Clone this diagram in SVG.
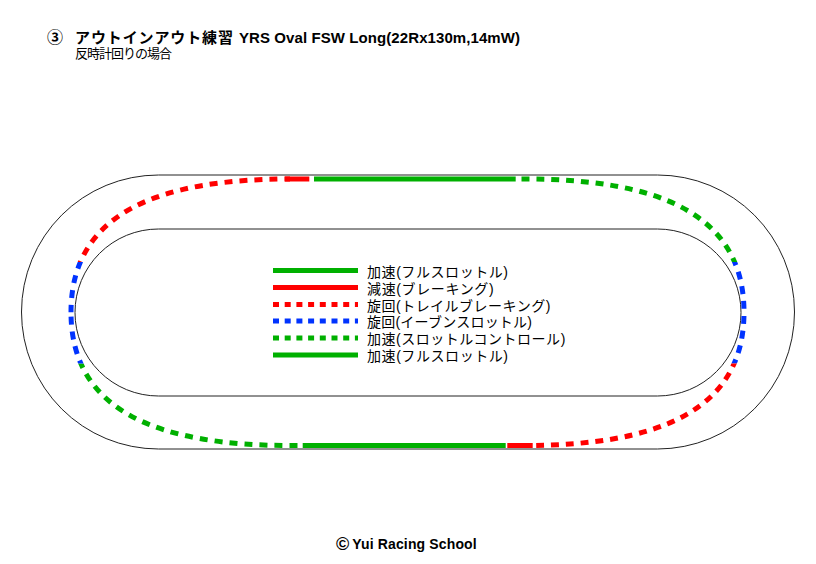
<svg xmlns="http://www.w3.org/2000/svg" width="816" height="564" viewBox="0 0 816 564">
<style>
text{font-family:"Liberation Sans","Noto Sans CJK JP",sans-serif;fill:#000}
.b{font-weight:bold}
.lg{font-size:14px}
.edge{fill:none;stroke:#222;stroke-width:1}
.ln{fill:none;stroke-width:5}
.dash{fill:none;stroke-width:5;stroke-dasharray:8 7}
.dr{stroke-dasharray:7.9 6.94}
.ldash{stroke-dasharray:6 5.7}
.g{stroke:#00b000}
.r{stroke:#ff0000}
.bl{stroke:#0033ff}
</style>
<defs>
<clipPath id="cTop"><rect x="0" y="0" width="816" height="262"/></clipPath>
<clipPath id="cMid"><rect x="0" y="262" width="816" height="101.5"/></clipPath>
<clipPath id="cBot"><rect x="0" y="363.5" width="816" height="200.5"/></clipPath>
<path id="tl" d="M290,179 C160,179 71,212.25 71,312.25"/>
<path id="bl" d="M297.5,445.5 L290,445.5 C160,445.5 71,412.25 71,312.25"/>
<path id="rr" d="M521.5,179 L525,179 C655,179 744,212.25 744,312.25 C744,412.25 655,445.5 525,445.5 L512,445.5"/>
</defs>
<rect width="816" height="564" fill="#fff"/>
<g id="title">
<text class="b" x="47" y="43" font-size="16">③</text>
<text class="b" x="75" y="42.5" font-size="15" textLength="158" lengthAdjust="spacing">アウトインアウト練習</text>
<text class="b" x="239" y="42.5" font-size="15" textLength="281" lengthAdjust="spacing">YRS Oval FSW Long(22Rx130m,14mW)</text>
<text x="75" y="57.5" font-size="13" textLength="97" lengthAdjust="spacing">反時計回りの場合</text>
</g>
<g id="track">
<rect class="edge" x="21.5" y="175" width="773" height="274" rx="137" ry="137"/>
<rect class="edge" x="75" y="229" width="666" height="167" rx="83.5" ry="83.5"/>
</g>
<g id="racing-line">
<line class="ln g" x1="515.7" y1="179" x2="314" y2="179"/>
<line class="ln r" x1="309.3" y1="179" x2="285" y2="179"/>
<use href="#tl" class="dash r" clip-path="url(#cTop)" stroke-dashoffset="2.5"/>
<use href="#tl" class="dash bl" clip-path="url(#cMid)" stroke-dashoffset="2.5"/>
<use href="#bl" class="dash g" clip-path="url(#cBot)"/>
<use href="#bl" class="dash bl" clip-path="url(#cMid)"/>
<line class="ln g" x1="302.7" y1="445.5" x2="505.7" y2="445.5"/>
<use href="#rr" class="dash dr g" clip-path="url(#cTop)"/>
<use href="#rr" class="dash dr bl" clip-path="url(#cMid)"/>
<use href="#rr" class="dash dr r" clip-path="url(#cBot)"/>
<line class="ln r" x1="507.3" y1="445.5" x2="532.7" y2="445.5"/>
</g>
<g id="legend">
<g id="leg1"><line class="ln g" x1="273" y1="270.5" x2="358" y2="270.5"/><text class="lg" x="367" y="276.5" textLength="141" lengthAdjust="spacing">加速(フルスロットル)</text></g>
<g id="leg2"><line class="ln r" x1="273" y1="287.5" x2="358" y2="287.5"/><text class="lg" x="367" y="293.5" textLength="126.6" lengthAdjust="spacing">減速(ブレーキング)</text></g>
<g id="leg3"><line class="ln r ldash" x1="273" y1="304.5" x2="358" y2="304.5"/><text class="lg" x="367" y="310.5" textLength="183.3" lengthAdjust="spacing">旋回(トレイルブレーキング)</text></g>
<g id="leg4"><line class="ln bl ldash" x1="273" y1="321" x2="358" y2="321"/><text class="lg" x="367" y="327" textLength="165" lengthAdjust="spacing">旋回(イーブンスロットル)</text></g>
<g id="leg5"><line class="ln g ldash" x1="273" y1="338" x2="358" y2="338"/><text class="lg" x="367" y="344" textLength="198.3" lengthAdjust="spacing">加速(スロットルコントロール)</text></g>
<g id="leg6"><line class="ln g" x1="273" y1="355" x2="358" y2="355"/><text class="lg" x="367" y="361" textLength="141" lengthAdjust="spacing">加速(フルスロットル)</text></g>
</g>
<g id="copyright">
<text class="b" x="336" y="549.5" font-size="18">©</text>
<text class="b" x="352.3" y="549" font-size="14" textLength="124.4" lengthAdjust="spacing">Yui Racing School</text>
</g>
</svg>
